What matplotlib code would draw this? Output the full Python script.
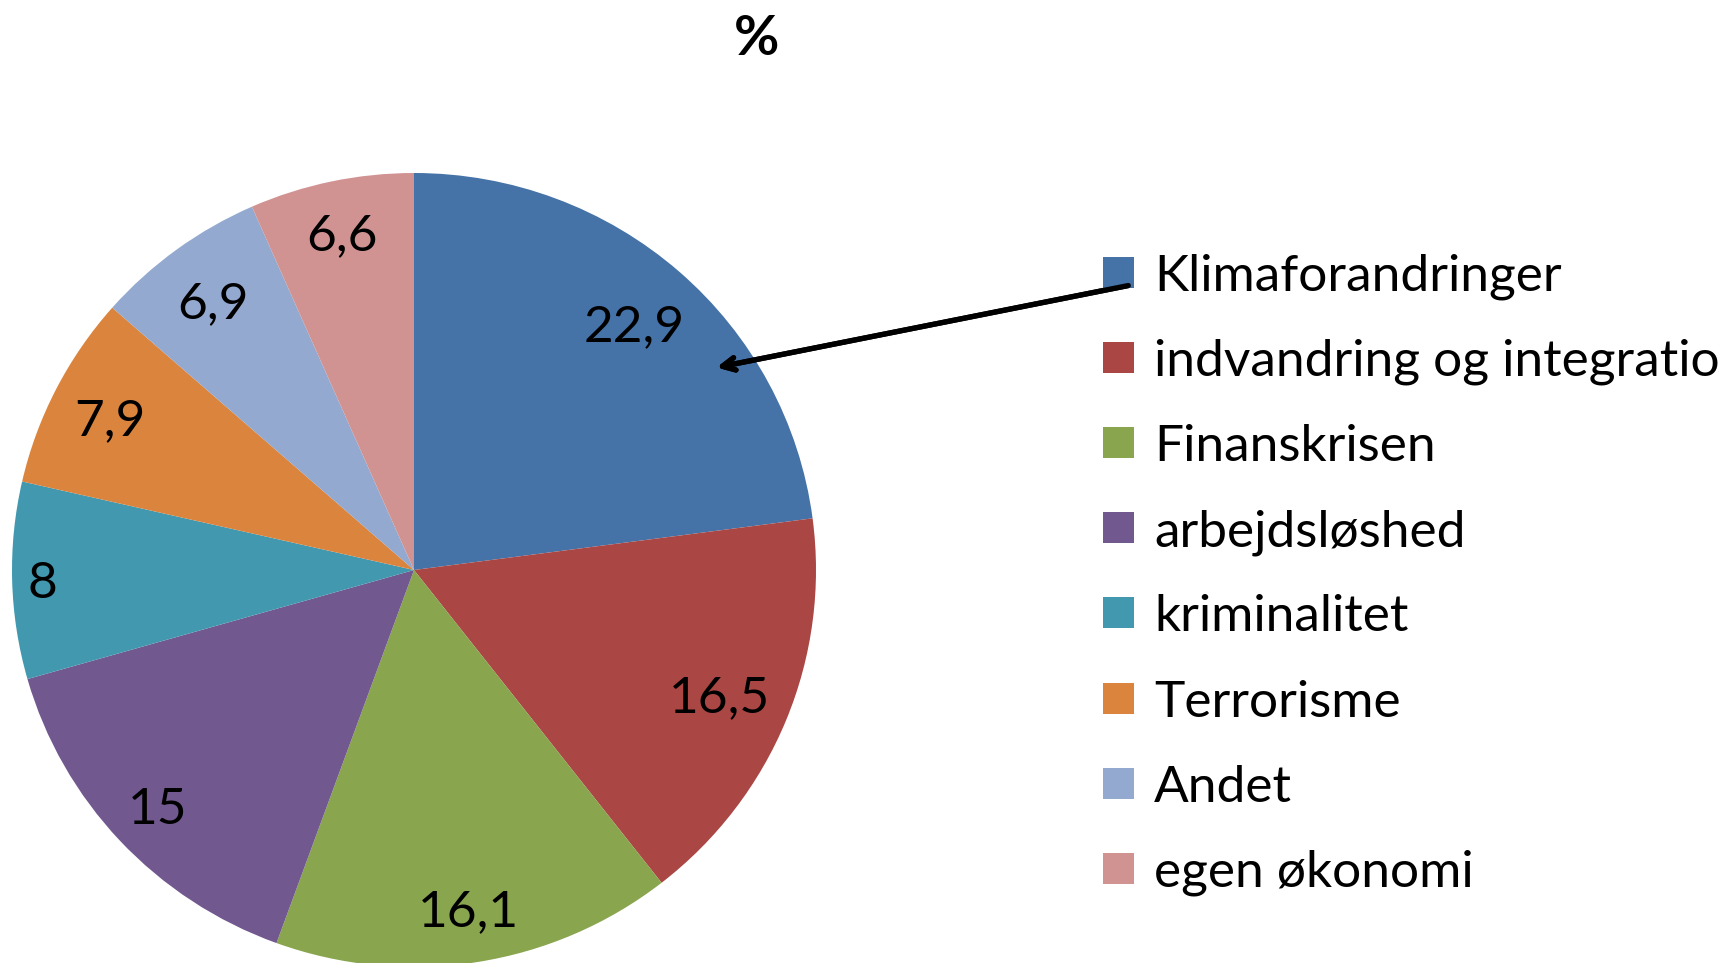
"""Pie chart of the most important issues (%), Excel 2007 look."""

import matplotlib.pyplot as plt
import numpy as np
from matplotlib.patches import Rectangle

plt.rcParams["font.family"] = ["Lato", "DejaVu Sans"]

# legend text as it shows in the original (the last letter is cut off there)
categories = [
    "Klimaforandringer",
    "indvandring og integratio",
    "Finanskrisen",
    "arbejdsløshed",
    "kriminalitet",
    "Terrorisme",
    "Andet",
    "egen økonomi",
]
values = [22.9, 16.5, 16.1, 15, 8, 7.9, 6.9, 6.6]
value_labels = ["22,9", "16,5", "16,1", "15", "8", "7,9", "6,9", "6,6"]
colors = ["#4572A7", "#AA4643", "#89A54E", "#71588F",
          "#4198AF", "#DB843D", "#93A9CF", "#D19392"]
# how far out each value label sits (fraction of radius)
label_radius = [0.83, 0.82, 0.86, 0.87, 0.925, 0.85, 0.845, 0.87]

W, H = 1730, 963
fig = plt.figure(figsize=(W / 100, H / 100), dpi=100)

# pie centre and radii in pixels (Excel's pie is a touch wider than tall)
cx, cy, rx, ry = 414, 570, 402, 397
ax = fig.add_axes([(cx - rx) / W, 1 - (cy + ry) / H, 2 * rx / W, 2 * ry / H])
wedges, _ = ax.pie(values, colors=colors, startangle=90, counterclock=False,
                   radius=1, wedgeprops=dict(linewidth=0))
ax.set_xlim(-1, 1)
ax.set_ylim(-1, 1)
ax.set_aspect("auto")
ax.axis("off")

for w, lab, rr in zip(wedges, value_labels, label_radius):
    mid = np.deg2rad((w.theta1 + w.theta2) / 2)
    ax.text(rr * np.cos(mid), rr * np.sin(mid), lab, ha="center",
            va="center_baseline", fontsize=37, color="black")

fig.text(757 / W, 1 - 39 / H, "%", ha="center", va="center",
         fontsize=40, fontweight="bold")

# legend drawn by hand so spacing matches the original
y0, step, box = 272, 85.2, 31
for i, (name, col) in enumerate(zip(categories, colors)):
    yc = y0 + i * step
    fig.patches.append(Rectangle((1103 / W, 1 - (yc + box / 2) / H), box / W, box / H,
                                 transform=fig.transFigure, facecolor=col,
                                 edgecolor="none"))
    fig.text(1154 / W, 1 - yc / H, name, ha="left", va="center_baseline",
             fontsize=37)

# arrow pointing at the biggest slice
fig.add_artist(plt.annotate(
    "", xy=(714 / W, 1 - 368 / H), xycoords="figure fraction",
    xytext=(1131 / W, 1 - 285 / H), textcoords="figure fraction",
    arrowprops=dict(arrowstyle="->,head_length=0.9,head_width=0.45",
                    lw=3.8, color="black")))

fig.savefig("out.png", dpi=100)
